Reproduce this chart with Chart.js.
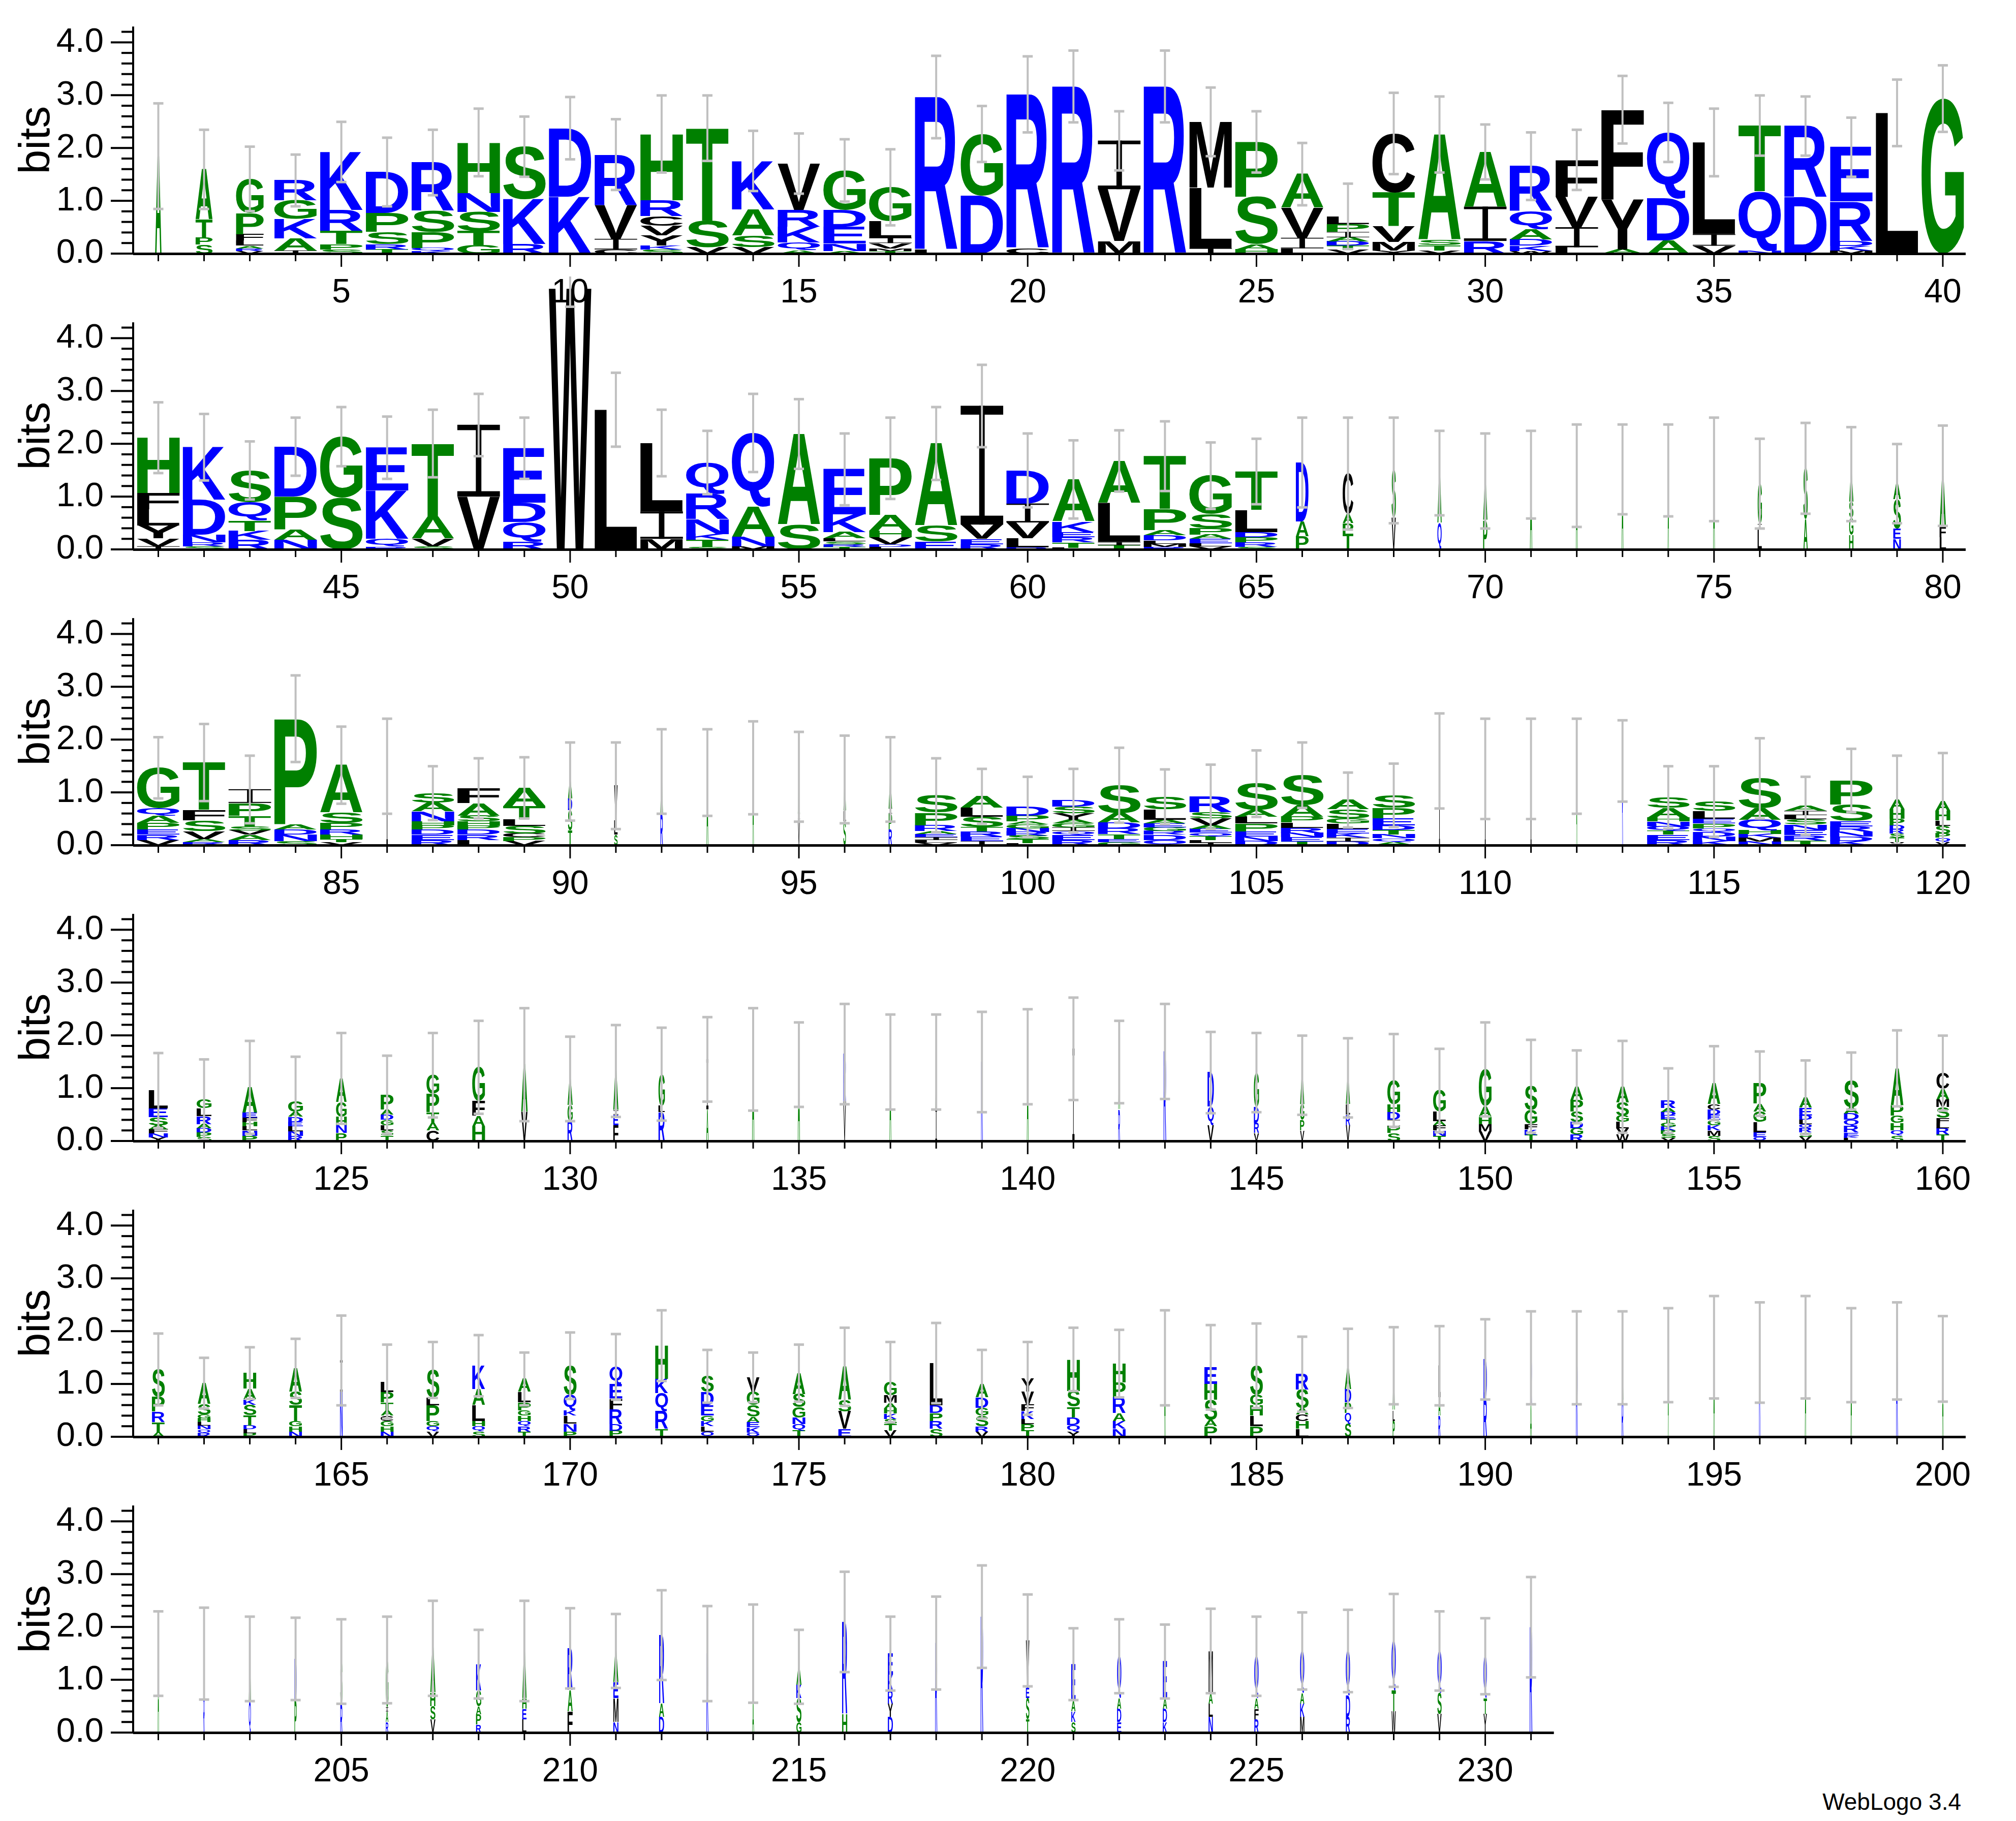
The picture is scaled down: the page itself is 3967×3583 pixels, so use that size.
<!DOCTYPE html>
<html>
<head>
<meta charset="utf-8">
<script src="https://cdn.jsdelivr.net/npm/chart.js@4.4.0/dist/chart.umd.min.js"></script>
<style>
  body { margin: 0; background: #fff; }
  #page { position: relative; width: 3967px; height: 3583px; overflow: hidden; }
  canvas { position: absolute; left: 0; }
  #credit { position: absolute; right: 108px; top: 3518px; font: 46px "Liberation Sans", Arial, sans-serif; color: #000; }
</style>
</head>
<body>
<div id="page"><div id="credit">WebLogo 3.4</div></div>
<script>
// letter stacks per position (top letter first), heights in bits
const stacks = [
  // 1-20
  "A1.85", "A.95 T.35 P.13 S.17", "G.65 P.4 F.12 L.1 A.05 R.05 V.05", "R.38 G.35 K.37 A.23 I.06",
  "K1.1 R.4 T.25 P.1 S.08", "D.78 P.36 S.23 R.1 T.08", "R.92 S.4 P.3 Q.06 K.05", "H.96 N.36 S.36 T.27 G.16",
  "S1.0 K.85 R.18", "D1.3 K1.08", "R.96 V.64 I.2 C.08", "H1.26 R.3 C.18 V.18 Y.2 K.07 S.08",
  "T1.76 S.5 V.12", "K.92 A.5 S.22 V.12", "V.88 R.32 K.3 Q.15 A.06", "G.75 D.32 E.32 N.14 A.05",
  "G.64 L.32 I.1 V.1 M.05 T.05", "R2.9 L.07", "G1.17 D1.1", "R2.92 C.1",
  // 21-40
  "R3.17", "I.92 V.98 M.24", "R3.17", "M1.25 L1.15 I.1", "P1.04 S.9 A.1 H.08",
  "A.64 V.57 I.2 L.1", "L.15 P.15 I.1 A.08 D.08 T.08 V.07", "C1.12 T.64 V.3 M.16 Y.06",
  "A2.0 S.1 T.1 V.06", "A1.04 I.65 R.24", "R.86 Q.33 A.2 D.12 K.1 W.05", "F.7 V.58 I.38 L.12",
  "F1.7 Y.95 A.08", "Q1.25 D.8 A.25", "L1.74 I.22 V.15", "T1.25 Q1.12 N.06",
  "R1.35 D1.07", "E1.03 R.75 D.1 K.08 M.06", "L2.67", "G2.94",
  // 41-60
  "H1.05 F.31 L.31 Y.24 V.15 I.06", "K1.0 D.66 N.15 R.07 S.06", "S.6 Q.35 T.2 K.17 R.18",
  "D.95 P.62 A.2 N.18", "G1.16 S.98", "E.81 K.92 Q.15 R.05", "T1.38 A.42 V.15 S.06",
  "I1.36 V1.0", "E1.03 D.37 Q.37 R.15", "W4.95", "L2.65", "L1.3 I.52 M.2",
  "Q.6 R.48 N.28 K.11 T.13 S.05", "Q1.4 A.57 N.18 M.06", "A1.72 S.47",
  "E.86 K.33 A.12 L.06 S.05 R.05 T.05", "P1.08 A.3 H.12 V.13 D.05 L.05", "A1.56 S.3 E.15",
  "I2.25 V.27 E.1 R.1", "D.63 I.36 V.3 L.17 R.04",
  // 61-80
  "A.8 K.2 E.1 R.1 T.1 L.03", "A.8 L.74 I.06 T.08", "T1.0 P.4 A.1 D.1 L.06 M.06 R.05",
  "G.73 S.27 P.12 A.08 E.08 L.06 V.06", "T.73 L.42 D.1 P.1 R.08 S.05", "D1.12 A.28 P.25",
  "C.77 A.17 P.2 T.3", "S.9 V.6", "A.95 Q.5", "A.75 P.55", "A1.42", "A1.4", "A1.52", "A1.5",
  "A1.52", "G.77 I.1 L.38", "S.97 A.57", "A.53 S.3 G.33 H.27", "A.3 S.55 E.2 N.2", "A.97 F.2 L.23",
  // 81-100
  "G.77 Q.15 A.13 P.12 E.1 R.1 V.1", "T.9 F.2 S.2 V.15 A.06 R.06", "I.26 P.24 T.2 S.08 V.08 A.1 R.1",
  "P2.0 A.1 D.1 N.12 S.08", "A.9 S.2 P.12 R.1 H.08 T.06 V.06", "I1.5",
  "S.18 A.17 N.19 H.07 P.08 D.1 E.1 R.1", "F.28 A.24 S.11 H.08 P.07 D.1 R.1 L.1",
  "A.35 T.25 L.12 S.15 C.07 P.07 V.08", "A.33 D.22 S.38 T.28", "V.66 L.27 S.2", "A.8 R.6",
  "A1.38", "A1.47", "A.7 I.1 V.5", "A.6 L.2 S.45", "A.55 I.1 P.3 R.3",
  "S.33 P.24 R.11 A.06 E.06 I.05 L.05 V.05", "A.22 L.17 S.2 T.08 R.1 E.08 I.08",
  "D.17 P.11 A.06 G.07 N.07 R.07 S.07 T.07 L.04",
  // 101-120
  "D.12 S.13 Y.12 A.07 G.07 I.07 Q.07 E.1 R.1", "S.53 A.18 D.11 R.11 T.09 E.06 G.06",
  "S.24 L.2 A.07 E.07 G.07 R.07 D.1 Q.1", "R.3 S.11 V.13 A.07 E.07 Q.07 T.07 L.05 I.05",
  "S.5 A.13 L.13 P.15 E.1 N.08 D.08", "S.57 A.22 P.11 L.1 R.1 N.08 E.08 T.07",
  "A.18 S.17 G.1 L.1 E.09 K.08 I.07 D.07", "S.24 P.2 E.13 D.09 T.09 N.07 Q.07 A.06",
  "I1.6", "I1.45", "I1.45", "A1.5", "R1.6", "S.2 A.19 H.07 N.09 Q.09 T.07 E.1 R.1",
  "S.18 L.15 E.09 P.09 Q.07 D.09 N.08 K.08", "S.57 A.22 Q.2 H.07 K.07 M.07 N.07",
  "A.1 I.08 L.08 S.1 N.1 E.1 R.1 T.09", "P.46 S.31 E.1 R.1 N.1 D.08 K.08",
  "A.18 H.18 P.12 D.08 R.08 S.08 T.08 V.06", "A.18 H.18 L.1 S.15 P.08 Q.08 V.06",
  // 121-140
  "L.34 E.17 S.15 A.08 F.08 N.07 Y.07", "G.17 L.15 R.15 A.08 D.08 P.08 S.08",
  "A.48 E.1 F.08 H.08 L.08 N.1 P.1", "G.2 A.1 D.1 E.08 L.1 N.08 R.1", "A.45 G.28 H.16 N.15 P.15",
  "P.28 A.1 D.1 G.1 L.1 S.1 T.1", "G.35 P.35 T.2 A.15 C.2", "G.64 F.28 A.2 H.28", "A.9 V.55",
  "A.5 G.3 R.38", "A.75 I.08 E.2 F.3", "G.6 L.12 R.55", "I.95 A.6", "A1.55", "A1.45", "R.9 V.75",
  "A1.5", "A.9 I.6", "R1.5", "A1.6",
  // 141-160
  "I1.75", "A.9 R.6", "R1.7", "D.65 Q.35 V.3", "G.65 D.3 R.2 V.15", "A.55 G.3 P.2 V.2",
  "A.5 L.2 R.2 V.3", "G.45 H.15 D.15 I.12 P.13 S.15", "G.4 L.18 A.08 F.1 N.1 T.1",
  "G.7 A.2 H.14 M.14 V.18", "S.45 G.27 F.1 K.1 T.12", "A.25 P.22 S.2 D.12 G.12 R.12",
  "A.3 S.25 G.12 L.12 V.12 W.12", "R.15 A.07 D.07 E.07 T.07 G.07 K.07 P.07 S.07 V.06",
  "A.4 C.1 D.1 E.1 G.1 K.1 M.1 S.1", "P.38 A.15 G.2 L.2 E.08 Q.08",
  "A.2 E.15 D.08 L.08 Q.08 R.08 S.08 V.08", "S.5 A.12 D.12 Q.12 R.12 E.06 K.04 L.06",
  "A.7 P.2 G.14 H.14 Q.1 S.1", "C.3 A.2 M.15 S.2 F.1 L.1 R.12 T.12",
  // 161-180
  "S.52 P.28 R.2 T.2 A.08", "A.4 S.2 G.07 H.07 L.07 N.07 Q.07 R.07", "H.3 A.2 K.1 S.2 T.2 D.07 L.07 P.07",
  "A.45 S.25 T.3 G.1 H.1 N.1", "I.6 N.85", "L.2 P.2 T.15 A.1 C.1 G.1 H.1 N.1",
  "S.52 L.15 P.3 G.1 Q.1 V.1", "K.45 A.3 L.3 H.1 Q.1 S.1", "A.25 L.2 P.15 G.1 H.1 Q.1 R.1 T.1",
  "S.55 Q.3 K.1 L.15 N.15 P.1", "Q.33 E.28 F.2 R.28 D.12 P.12", "H.63 K.27 Q.35 R.33 T.15",
  "S.3 D.25 E.2 G.1 K.1 L.1 Q.1", "V.28 G.25 S.22 A.1 E.1 K.1 Q.08", "A.4 S.25 G.2 N.12 Q.12 T.12",
  "A.63 S.22 V.33 E.15", "G.25 M.15 A.1 H.1 K.1 S.1 T.12 V.12", "L.8 D.15 P.15 R.15 S.15",
  "A.25 D.2 G.15 S.2 R.1 V.1", "Y.25 V.25 F.12 K.15 L.1 P.12 T.12",
  // 181-200
  "H.6 S.3 T.2 D.15 Q.12 Y.1", "H.36 P.28 R.3 A.15 K.15 N.15", "A1.5", "E.32 H.3 S.38 A.12 P.2",
  "S.55 G.2 H.2 L.2 P.2", "R.3 S.35 A.12 C.12 H.15 L.15", "A.4 D.25 P.2 Q.2 S.25", "A.85 L.2 P.3",
  "L.6 A.35 R.4", "D.75 R.72", "R.9 A.6", "R1.5", "A.8 R.7", "A1.55", "A1.7", "R1.6", "A1.7",
  "A1.55", "R1.63", "A1.48",
  // 201-231
  "A1.5", "A.8 R.7", "A.8 Q.6", "D.8 P.6", "S.8 R.55", "G.9 I.08 A.2 R.2",
  "A.85 H.25 S.25 V.25", "K.5 G.3 A.15 P.2 R.15", "A.9 H.2 E.2 L.25", "R.8 A.4 F.4",
  "A.6 E.3 M.45 N.2", "R1.3 A.25 D.3", "R1.5", "I.9 A.6", "A.35 K.25 S.45 G.2", "R1.75 H.35",
  "E.4 K.3 R.25 Y.25 D.3", "R1.7", "R2.2", "V.9 E.2 S.4 T.25", "E.7 A.2 K.2 S.2",
  "Q.8 A.2 D.25 E.2", "E.7 A.2 D.25 K.2", "M.8 A.2 L.25 N.3", "Q.8 A.2 F.2 R.25",
  "Q.8 A.2 K.25 M.3", "Q.85 D.4 R.3", "Q.95 T.4 W.4", "Q.8 S.4 V.35", "Q.8 T.3 Y.35", "R2.0"
];

// relative column widths (fraction of sequences without a gap)
const colWidth = [
  .15, .4, .65, 1, 1, 1, 1, 1, 1, 1, 1, 1, 1, 1, 1, 1, 1, 1, 1, 1,
  1, 1, 1, 1, 1, 1, 1, 1, 1, 1, 1, 1, 1, 1, 1, 1, 1, 1, 1, 1,
  1, 1, 1, 1, 1, 1, 1, 1, 1, 1, 1, 1, 1, 1, 1, 1, 1, 1, 1, 1,
  1, 1, 1, 1, 1, .3, .25, .1, .1, .1, .05, .04, .04, .03, .04, .1, .1, .1, .18, .15,
  1, 1, 1, 1, 1, .03, 1, 1, 1, .1, .08, .06, .04, .03, .05, .06, .08, 1, 1, 1,
  1, 1, 1, 1, 1, 1, 1, 1, .02, .02, .02, .02, .02, 1, 1, 1, 1, 1, .35, .35,
  .45, .35, .35, .35, .25, .3, .3, .3, .15, .12, .12, .15, .05, .05, .05, .06, .04, .04, .04, .04,
  .05, .04, .06, .15, .12, .1, .1, .3, .3, .3, .3, .3, .3, .35, .3, .3, .3, .35, .3, .3,
  .3, .3, .3, .3, .06, .3, .3, .3, .3, .3, .3, .3, .3, .3, .3, .3, .3, .3, .3, .3,
  .3, .3, .03, .3, .3, .3, .15, .05, .05, .08, .04, .04, .04, .02, .03, .03, .03, .03, .04, .03,
  .03, .03, .05, .05, .05, .06, .12, .12, .1, .12, .12, .12, .05, .04, .12, .12, .12, .05, .06, .08,
  .1, .1, .1, .1, .1, .1, .1, .1, .1, .08, .06
];

// upper end of each error bar (bits)
const errTop = [
  2.85, 2.35, 2.03, 1.88, 2.5, 2.2, 2.35, 2.75, 2.6, 2.97, 2.55, 3.0, 3.0, 2.33, 2.28, 2.17, 1.98, 3.75, 2.8, 3.74,
  3.85, 2.7, 3.85, 3.15, 2.7, 2.1, 1.33, 3.05, 2.98, 2.45, 2.3, 2.35, 3.37, 2.86, 2.75, 3.0, 2.98, 2.58, 3.3, 3.57,
  2.79, 2.57, 2.05, 2.5, 2.7, 2.52, 2.65, 2.95, 2.5, 5.3, 3.35, 2.65, 2.25, 2.95, 2.85, 2.2, 2.5, 2.7, 3.5, 2.2,
  2.07, 2.26, 2.43, 2.03, 2.1, 2.5, 2.5, 2.5, 2.25, 2.2, 2.25, 2.37, 2.37, 2.37, 2.5, 2.1, 2.4, 2.32, 2.0, 2.35,
  2.05, 2.3, 1.7, 3.22, 2.25, 2.4, 1.5, 1.65, 1.67, 1.95, 1.95, 2.2, 2.2, 2.35, 2.15, 2.08, 2.05, 1.65, 1.45, 1.3,
  1.45, 1.85, 1.44, 1.53, 1.8, 1.95, 1.38, 1.55, 2.5, 2.4, 2.4, 2.4, 2.37, 1.5, 1.5, 2.03, 1.3, 1.83, 1.7, 1.75,
  1.67, 1.55, 1.9, 1.6, 2.05, 1.62, 2.05, 2.28, 2.52, 1.98, 2.2, 2.15, 2.35, 2.52, 2.25, 2.6, 2.4, 2.4, 2.45, 2.5,
  2.72, 2.28, 2.6, 2.07, 2.05, 2.0, 1.95, 2.03, 1.75, 2.25, 1.92, 1.72, 1.9, 1.38, 1.8, 1.7, 1.53, 1.68, 2.1, 2.0,
  1.96, 1.5, 1.7, 1.86, 2.3, 1.75, 1.8, 1.93, 1.6, 1.98, 1.95, 2.4, 1.65, 1.6, 1.75, 2.07, 1.8, 2.16, 1.65, 1.8,
  2.07, 2.03, 2.4, 2.12, 2.15, 1.9, 2.05, 2.08, 2.1, 2.23, 2.38, 2.38, 2.38, 2.44, 2.67, 2.55, 2.67, 2.44, 2.55, 2.29,
  2.3, 2.37, 2.2, 2.18, 2.15, 2.2, 2.5, 1.95, 2.5, 2.36, 2.25, 2.7, 2.4, 2.43, 1.95, 3.05, 2.2, 2.58, 3.17, 2.62,
  1.98, 2.15, 2.05, 2.35, 2.2, 2.28, 2.33, 2.63, 2.3, 2.17, 2.95
];

const yTicks = [0, 1, 2, 3, 4];
const perRow = 40;
const rowZero = [499, 1081, 1663, 2245, 2827, 3409];

const letterColor = {};
"GSTAPH".split("").forEach(c => letterColor[c] = "#008000");
"DEKRQN".split("").forEach(c => letterColor[c] = "#0000ff");
"CVLMFIWY".split("").forEach(c => letterColor[c] = "#000000");

const parsed = stacks.map(s => s.split(" ").map(t => ({ ch: t[0], h: parseFloat(t.slice(1)) })));

const FONT = '"Liberation Sans", Arial, Helvetica, sans-serif';
const PAD_TOP = 90, AREA_H = 4.3 * 104, X_AXIS_H = 125;

// draw a glyph stretched to fill a box
function drawGlyph(ctx, ch, left, bottom, w, h) {
  if (ch === 'I') {
    // serif I like the WebLogo font
    const bar = Math.max(1, h * 0.075);
    const stem = Math.max(1, w * 0.13);
    ctx.fillRect(left, bottom - h, w, bar);
    ctx.fillRect(left, bottom - bar, w, bar);
    ctx.fillRect(left + (w - stem) / 2, bottom - h, stem, h);
    return;
  }
  ctx.save();
  ctx.font = 'bold 200px ' + FONT;
  ctx.textBaseline = 'alphabetic';
  const m = ctx.measureText(ch);
  const gw = m.actualBoundingBoxLeft + m.actualBoundingBoxRight;
  const gh = m.actualBoundingBoxAscent + m.actualBoundingBoxDescent;
  ctx.translate(left, bottom);
  ctx.scale(w / gw, h / gh);
  ctx.fillText(ch, m.actualBoundingBoxLeft, -m.actualBoundingBoxDescent);
  ctx.restore();
}

const logoPlugin = {
  id: 'logo',
  afterDraw(chart) {
    const { ctx } = chart;
    const x = chart.scales.x, y = chart.scales.y;
    const first = chart.options.plugins.logo.first;
    const count = chart.options.plugins.logo.count;
    const colPx = x.getPixelForValue(first + 1) - x.getPixelForValue(first);
    const y0 = y.getPixelForValue(0);

    // letters
    for (let i = 0; i < count; i++) {
      const idx = first - 1 + i;
      const cx = x.getPixelForValue(first + i);
      const w = colPx * 0.93 * colWidth[idx];
      let acc = 0;
      const col = parsed[idx].slice().reverse();
      col.forEach(l => {
        const bot = y.getPixelForValue(acc);
        const top = y.getPixelForValue(acc + l.h);
        acc += l.h;
        if (bot - top < 0.5) return;
        ctx.fillStyle = letterColor[l.ch] || '#000';
        drawGlyph(ctx, l.ch, cx - w / 2, bot, w, bot - top);
      });
      // error bar
      const topV = errTop[idx];
      const lowV = Math.max(0, 2 * acc - topV);
      const yt = y.getPixelForValue(topV), yb = y.getPixelForValue(lowV);
      ctx.strokeStyle = '#c0c0c0';
      ctx.lineWidth = 4;
      ctx.beginPath(); ctx.moveTo(cx, yt); ctx.lineTo(cx, yb); ctx.stroke();
      ctx.fillStyle = '#c0c0c0';
      ctx.fillRect(cx - 10, yt - 2, 20, 5);
      ctx.fillRect(cx - 10, yb - 2, 20, 5);
    }

    // axes
    ctx.fillStyle = '#000';
    const axX = chart.chartArea.left;
    ctx.fillRect(axX - 2, y.getPixelForValue(4.3), 4, y0 - y.getPixelForValue(4.3) + 2);
    for (let v = 0; v <= 4.21; v += 0.2) {
      const major = Math.abs(v - Math.round(v)) < 1e-6;
      const py = y.getPixelForValue(v);
      const len = major ? 44 : 23;
      ctx.fillRect(axX - len, py - 2, len, 4);
    }
    const xEnd = x.getPixelForValue(first + count - 0.5);
    const xStart = x.getPixelForValue(first - 0.55);
    ctx.fillRect(xStart, y0 - 2, xEnd - xStart, 5);
    for (let i = 0; i < count; i++) {
      const p = first + i;
      const px = x.getPixelForValue(p);
      const len = p % 5 === 0 ? 26 : 15;
      ctx.fillRect(px - 1.5, y0, 3, len);
    }
  }
};

function makeRow(r) {
  const first = r * perRow + 1;
  const count = Math.min(perRow, stacks.length - r * perRow);
  const canvas = document.createElement('canvas');
  const h = PAD_TOP + AREA_H + X_AXIS_H;
  canvas.style.top = (rowZero[r] - AREA_H - PAD_TOP) + 'px';
  canvas.style.width = '3967px';
  canvas.style.height = h + 'px';
  document.getElementById('page').appendChild(canvas);

  new Chart(canvas, {
    type: 'scatter',
    data: { datasets: [{ data: [], showLine: false }] },
    plugins: [logoPlugin],
    options: {
      responsive: false,
      animation: false,
      devicePixelRatio: 1,
      layout: { padding: { top: PAD_TOP, left: 0, right: 3967 - 3868, bottom: 0 } },
      plugins: {
        legend: { display: false },
        tooltip: { enabled: false },
        logo: { first: first, count: count }
      },
      scales: {
        x: {
          type: 'linear',
          min: first - 0.55,
          max: first + perRow - 0.5,
          border: { display: false },
          grid: { display: false },
          afterFit: s => { s.height = X_AXIS_H; },
          ticks: {
            stepSize: 1,
            includeBounds: false,
            autoSkip: false,
            maxRotation: 0,
            padding: 30,
            color: '#000',
            font: { family: FONT, size: 66 },
            callback: v => (Number.isInteger(v) && v % 5 === 0 && v < first + count) ? String(v) : null
          }
        },
        y: {
          min: 0,
          max: 4.3,
          border: { display: false },
          grid: { display: false },
          afterFit: s => { s.width = 262; },
          afterBuildTicks: s => { s.ticks = yTicks.map(v => ({ value: v })); },
          title: {
            display: true,
            text: 'bits',
            color: '#000',
            font: { family: FONT, size: 86 },
            padding: { top: 22, bottom: 0 }
          },
          ticks: {
            padding: 50,
            color: '#000',
            font: { family: FONT, size: 67 },
            callback: v => v.toFixed(1)
          }
        }
      }
    }
  });
}

for (let r = 0; r < 6; r++) makeRow(r);
</script>
</body>
</html>
